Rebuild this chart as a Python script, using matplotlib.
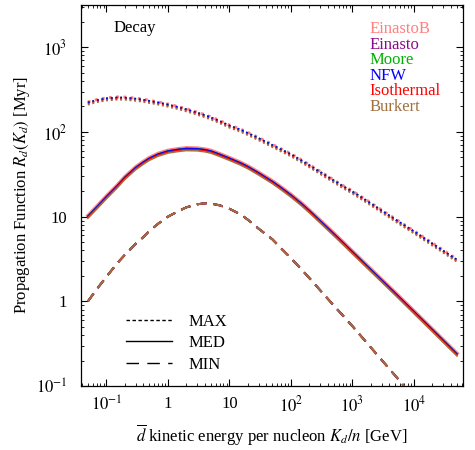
import numpy as np
import matplotlib.pyplot as plt
from matplotlib.lines import Line2D

plt.rcParams['font.family'] = ['Liberation Serif', 'DejaVu Serif']
plt.rcParams['mathtext.fontset'] = 'stix'
plt.rcParams['font.size'] = 12

# === data ===
# antideuteron kinetic energy per nucleon [GeV]
energy = [0.05, 0.07, 0.1, 0.15, 0.2, 0.3, 0.4, 0.5, 0.7, 1, 1.5, 2, 3, 4, 5, 7,
          10, 15, 20, 30, 50, 70, 100, 150, 200, 300, 500, 700, 1e3, 2e3, 5e3,
          1e4, 2e4, 5e4]

# propagation function (band centre) [Myr]
r_max = [219, 234, 245, 251, 250, 243, 236, 229, 219, 207, 193, 182, 166, 155, 146, 132,
         117, 105, 95.5, 83, 69, 61, 53.7, 45.2, 39.8, 33.1, 26.3, 22.6, 19.5, 14.1, 9.1,
         6.6, 4.73, 3.05]
r_med = [10, 12.9, 17, 22.9, 28.8, 37.6, 43.6, 48.4, 54.3, 58.9, 61.7, 63.1, 62.7, 61, 58.9, 53.7,
         48.4, 42.7, 38.5, 32.4, 25.7, 21.6, 17.8, 14.0, 11.6, 8.8, 6.2, 4.9, 3.8, 2.34, 1.23,
         0.75, 0.457, 0.237]
r_min = [1.0, 1.40, 1.95, 2.82, 3.55, 4.8, 5.75, 6.8, 8.3, 10, 11.7, 12.9, 14.0, 14.4, 14.3, 13.6,
         12.4, 10.7, 9.2, 7.2, 5.4, 4.2, 3.24, 2.37, 1.88, 1.35, 0.89, 0.68, 0.51, 0.285, 0.132,
         0.072, np.nan, np.nan]

profiles = ['EinastoB', 'Einasto', 'Moore', 'NFW', 'Isothermal', 'Burkert']
colors = ['#ff8080', '#8b0a8b', '#00b000', '#0000ff', '#ff0000', '#a0703f']
# per-profile shift from band centre, in dex
shift_max = [0.015, 0.008, 0.005, 0.005, -0.010, -0.018]
shift_med = [0.012, 0.006, 0.004, 0.004, -0.008, -0.020]
shift_min = [0, 0, 0, 0, 0, 0]

xticks = [0.1, 1, 10, 100, 1e3, 1e4]
xticklabels = ['$10^{-1}$', '1', '10', '$10^{2}$', '$10^{3}$', '$10^{4}$']
yticks = [0.1, 1, 10, 100, 1e3]
yticklabels = ['$10^{-1}$', '1', '10', '$10^{2}$', '$10^{3}$']

# === plot ===
fig = plt.figure(figsize=(4.75, 4.5), dpi=100)
ax = fig.add_axes([0.171, 0.142, 0.804, 0.847])

e = np.array(energy)
for name, col, smax, smed, smin in zip(profiles, colors, shift_max, shift_med, shift_min):
    thick = name == 'EinastoB'
    ax.plot(e, np.array(r_max) * 10**smax, color=col, lw=2.0 if thick else 1.3,
            linestyle=(0, (1.0, 1.6)))
    ax.plot(e, np.array(r_med) * 10**smed, color=col, lw=2.6 if thick else 1.1)
    ax.plot(e, np.array(r_min) * 10**smin, color=col, lw=1.4,
            linestyle=(0, (5, 3.5)))

ax.set_xscale('log')
ax.set_yscale('log')
ax.set_xlim(0.039, 6.3e4)
ax.set_ylim(0.1, 3160)
ax.set_xticks(xticks)
ax.set_xticklabels(xticklabels)
ax.set_yticks(yticks)
ax.set_yticklabels(yticklabels)
ax.tick_params(which='both', direction='in', top=True, right=True)
ax.tick_params(which='major', length=5, width=0.8)
ax.tick_params(which='minor', length=2.5, width=0.6)
ax.tick_params(axis='x', pad=7)
ax.tick_params(axis='y', pad=10)
for s in ax.spines.values():
    s.set_linewidth(0.9)

ax.set_xlabel(r'$\overline{d}$ kinetic energy per nucleon $K_d/n$ [GeV]', labelpad=5)
ax.set_ylabel(r'Propagation Function $R_d(K_d)$ [Myr]', labelpad=3)

ax.text(0.085, 0.94, 'Decay', transform=ax.transAxes, ha='left', va='center')

# coloured profile names
for i, (name, col) in enumerate(zip(profiles, colors)):
    ax.text(0.755, 0.937 - i * 0.041, name, color=col, transform=ax.transAxes,
            ha='left', va='center')

# propagation model key
handles = [Line2D([], [], color='black', lw=1.0, linestyle=(0, (2.5, 1.8))),
           Line2D([], [], color='black', lw=1.0),
           Line2D([], [], color='black', lw=1.0, linestyle=(0, (9, 6)))]
ax.legend(handles, ['MAX', 'MED', 'MIN'], loc='lower left',
          bbox_to_anchor=(0.077, -0.004), frameon=False, handlelength=2.8,
          handletextpad=1.0, labelspacing=0.33, fontsize=12)

plt.savefig('out.png', dpi=100)
